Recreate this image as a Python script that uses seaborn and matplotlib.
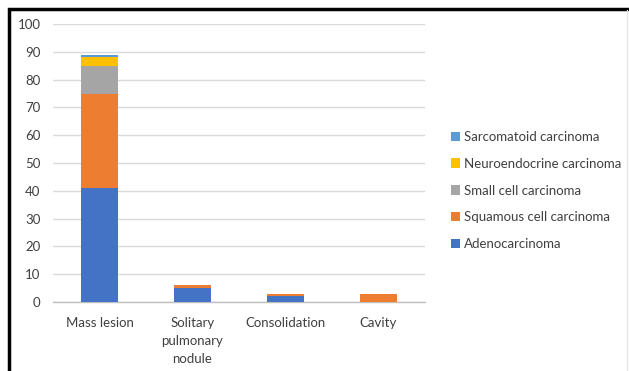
import matplotlib
matplotlib.use("Agg")
import matplotlib.pyplot as plt
from matplotlib.patches import Rectangle, Patch
import numpy as np
import pandas as pd
import seaborn as sns

# Radiological pattern vs. histological type (case counts)
categories = ["Mass lesion", "Solitary\npulmonary\nnodule", "Consolidation", "Cavity"]
series_names = [
    "Adenocarcinoma",
    "Squamous cell carcinoma",
    "Small cell carcinoma",
    "Neuroendocrine carcinoma",
    "Sarcomatoid carcinoma",
]
adenocarcinoma = [41, 5, 2, 0]
squamous = [34, 1, 1, 3]
small_cell = [10, 0, 0, 0]
neuroendocrine = [3, 0, 0, 0]
sarcomatoid = [1, 0, 0, 0]
colors = ["#4472C4", "#ED7D31", "#A5A5A5", "#FFC000", "#5B9BD5"]
y_ticks = list(range(0, 101, 10))

sns.set_theme(style="white")
plt.rcParams["font.family"] = ["Lato", "DejaVu Sans"]

values = np.array([adenocarcinoma, squamous, small_cell, neuroendocrine, sarcomatoid], dtype=float)
cumulative = np.cumsum(values, axis=0)

fig = plt.figure(figsize=(6.29, 3.71), dpi=100)
ax = fig.add_axes([0.0843, 0.186, 0.5914, 0.749])

# stacked bars: draw running totals from the top segment down
for i in range(len(series_names) - 1, -1, -1):
    df = pd.DataFrame({"pattern": categories, "total": cumulative[i]})
    sns.barplot(data=df, x="pattern", y="total", color=colors[i], width=0.4,
                saturation=1, ax=ax, zorder=3, linewidth=0)

ax.set_ylim(0, 100)
ax.set_yticks(y_ticks)
ax.set_xlim(-0.5, len(categories) - 0.5)
ax.set_xlabel("")
ax.set_ylabel("")
ax.yaxis.grid(True, color="#D9D9D9", linewidth=1, zorder=0)
ax.xaxis.grid(False)
for side in ["top", "right", "left"]:
    ax.spines[side].set_visible(False)
ax.spines["bottom"].set_color("#BFBFBF")
ax.spines["bottom"].set_linewidth(1)

ax.set_xticks(range(len(categories)))
ax.set_xticklabels(categories, fontsize=9.5, color="#404040", linespacing=1.6)
ax.tick_params(axis="x", length=0, pad=11)
ax.set_xticks(np.arange(-0.5, len(categories), 1), minor=True)
ax.tick_params(axis="x", which="minor", length=5, color="#BFBFBF", width=1, direction="out")
ax.tick_params(axis="y", length=0, pad=9, labelsize=9.5, labelcolor="#404040")

handles = [Patch(facecolor=colors[i], edgecolor="none") for i in range(len(series_names) - 1, -1, -1)]
labels = [series_names[i] for i in range(len(series_names) - 1, -1, -1)]
fig.legend(handles, labels, loc="center left", bbox_to_anchor=(0.698, 0.4865),
           frameon=False, fontsize=9.5, handlelength=0.7, handleheight=0.7,
           handletextpad=0.3, labelspacing=1.12, labelcolor="#404040")

# frame around the figure
fig.patches.append(Rectangle((9 / 629, -0.1), 2, 1 - 9 / 371 + 0.1, transform=fig.transFigure,
                             fill=False, edgecolor="black", linewidth=2.5))
fig.add_artist(plt.Line2D([627 / 629, 627 / 629], [0, 1 - 10 / 371], transform=fig.transFigure,
                          color="#E6E6E6", linewidth=1))

fig.savefig("out.png", dpi=100)
